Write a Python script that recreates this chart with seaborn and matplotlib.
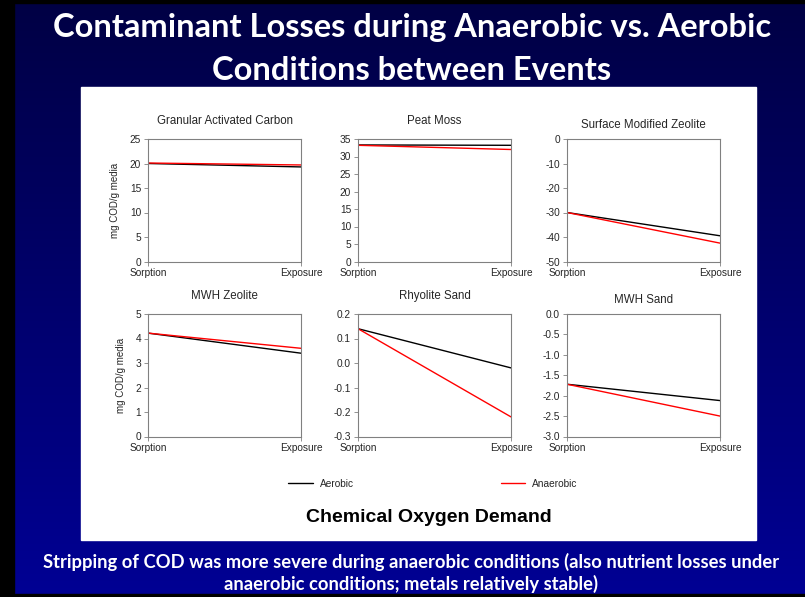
import numpy as np
import pandas as pd
import matplotlib
matplotlib.use("Agg")
import matplotlib.pyplot as plt
from matplotlib.patches import Rectangle
from matplotlib.colors import LinearSegmentedColormap
import seaborn as sns

# ---------------- data ----------------
stages = ["Sorption", "Exposure"]
panels = ["Granular Activated Carbon", "Peat Moss", "Surface Modified Zeolite",
          "MWH Zeolite", "Rhyolite Sand", "MWH Sand"]
aerobic = [[20.0, 19.3], [33.3, 33.2], [-30.0, -39.5],
           [4.22, 3.40], [0.14, -0.02], [-1.72, -2.12]]
anaerobic = [[20.1, 19.7], [33.2, 32.0], [-30.0, -42.5],
             [4.22, 3.60], [0.14, -0.22], [-1.72, -2.50]]
y_limits = [(0, 25), (0, 35), (-50, 0), (0, 5), (-0.3, 0.2), (-3.0, 0.0)]
y_steps = [5, 5, 10, 1, 0.1, 0.5]
conditions = ["Aerobic", "Anaerobic"]

rows = []
for p, a, an in zip(panels, aerobic, anaerobic):
    for i, s in enumerate(stages):
        rows.append({"panel": p, "x": i, "stage": s, "condition": "Aerobic", "value": a[i]})
        rows.append({"panel": p, "x": i, "stage": s, "condition": "Anaerobic", "value": an[i]})
df = pd.DataFrame(rows)

# ---------------- style ----------------
sns.set_theme(style="white")
plt.rcParams["font.family"] = ["Liberation Sans", "DejaVu Sans"]

W, H = 805, 597
fig = plt.figure(figsize=(W / 100, H / 100), dpi=100)

# background gradient
bg = fig.add_axes([0, 0, 1, 1], zorder=-10)
cmap = LinearSegmentedColormap.from_list("slide", ["#000044", "#000094"])
grad = np.linspace(0, 1, 256).reshape(-1, 1)
bg.imshow(grad, cmap=cmap, aspect="auto", extent=[0, W, H, 0])
bg.set_xlim(0, W)
bg.set_ylim(H, 0)
bg.axis("off")
bg.add_patch(Rectangle((0, 0), 14, H, color="black"))
bg.add_patch(Rectangle((0, 0), W, 3, color="black"))
bg.add_patch(Rectangle((0, H - 3), W, 3, color="black"))
bg.add_patch(Rectangle((81, 87), 675, 453, color="white"))

title_font = ["Lato", "DejaVu Sans"]
bg.text(412, 28, "Contaminant Losses during Anaerobic vs. Aerobic", color="white",
        fontsize=23.5, fontweight="bold", ha="center", va="center", family=title_font)
bg.text(412, 70, "Conditions between Events", color="white",
        fontsize=23.5, fontweight="bold", ha="center", va="center", family=title_font)
bg.text(411, 562, "Stripping of COD was more severe during anaerobic conditions (also nutrient losses under",
        color="white", fontsize=13.2, fontweight="bold", ha="center", va="center", family=title_font)
bg.text(411, 584, "anaerobic conditions; metals relatively stable)",
        color="white", fontsize=13.2, fontweight="bold", ha="center", va="center", family=title_font)
bg.text(429, 518, "Chemical Oxygen Demand", color="black", fontsize=14.0,
        fontweight="bold", ha="center", va="center")

# ---------------- panels ----------------
col_left = [148, 358, 567]
row_top = [139, 314]
aw, ah = 153, 122.5
palette = {"Aerobic": "black", "Anaerobic": "red"}

axes = []
for k, name in enumerate(panels):
    r, c = divmod(k, 3)
    x0 = col_left[c]
    y0 = row_top[r]
    ax = fig.add_axes([x0 / W, 1 - (y0 + ah) / H, aw / W, ah / H])
    sub = df[df["panel"] == name]
    sns.lineplot(data=sub, x="x", y="value", hue="condition", palette=palette,
                 hue_order=conditions, ax=ax, legend=False, linewidth=1.0)
    lo, hi = y_limits[k]
    ax.set_ylim(lo, hi)
    ax.set_xlim(0, 1)
    ticks = np.round(np.arange(lo, hi + y_steps[k] / 2, y_steps[k]), 3)
    ax.set_yticks(ticks)
    if y_steps[k] < 1:
        ax.set_yticklabels([f"{t:.1f}" for t in ticks])
    else:
        ax.set_yticklabels([f"{int(t)}" for t in ticks])
    ax.set_xticks([0, 1])
    ax.set_xticklabels(stages)
    ax.tick_params(axis="both", labelsize=7.3, length=3, width=0.6, color="#808080",
                   pad=2, left=True, bottom=True)
    ax.set_title(name, fontsize=8.3, pad=11 if c < 2 else 8)
    ax.set_xlabel("")
    if c == 0:
        ax.set_ylabel("mg COD/g media", fontsize=7.0, labelpad=7)
    else:
        ax.set_ylabel("")
    for sp in ax.spines.values():
        sp.set_color("#808080")
        sp.set_linewidth(0.8)
    ax.set_facecolor("white")
    axes.append(ax)

handles = axes[0].get_lines()[:2]
fig.legend(handles, conditions, loc="center", bbox_to_anchor=(433 / W, 1 - 484 / H),
           ncol=2, frameon=False, fontsize=7.3, handlelength=2.4, columnspacing=14.5,
           handletextpad=0.7)

fig.savefig("out.png", dpi=100)
